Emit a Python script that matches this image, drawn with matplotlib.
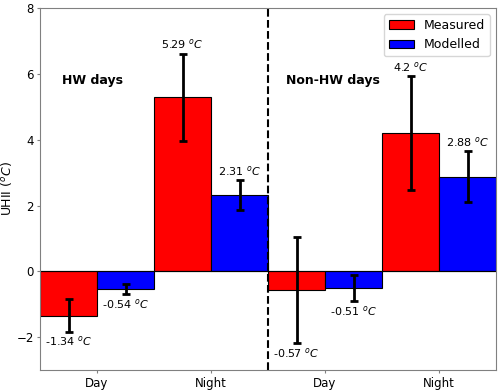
import matplotlib
matplotlib.use("Agg")
import matplotlib.pyplot as plt
import numpy as np

periods = ["Day", "Night", "Day", "Night"]
measured = [-1.34, 5.29, -0.57, 4.2]
modelled = [-0.54, 2.31, -0.51, 2.88]
measured_err = [0.49, 1.32, 1.61, 1.72]
modelled_err = [0.16, 0.46, 0.40, 0.76]
groups = ["HW days", "Non-HW days"]

plt.rcParams["axes.edgecolor"] = "gray"
plt.rcParams["xtick.color"] = "gray"
plt.rcParams["ytick.color"] = "gray"
plt.rcParams["xtick.labelcolor"] = "black"
plt.rcParams["ytick.labelcolor"] = "black"

fig, ax = plt.subplots(figsize=(5, 3.91), dpi=100)
x = np.arange(len(periods))
w = 0.5

ax.bar(x - w / 2, measured, w, color="red", edgecolor="black", linewidth=0.8, label="Measured")
ax.bar(x + w / 2, modelled, w, color="blue", edgecolor="black", linewidth=0.8, label="Modelled")
ax.errorbar(x - w / 2, measured, yerr=measured_err, fmt="none", ecolor="black",
            elinewidth=2, capsize=3, capthick=2)
ax.errorbar(x + w / 2, modelled, yerr=modelled_err, fmt="none", ecolor="black",
            elinewidth=2, capsize=3, capthick=2)

for xs, vals, errs in [(x - w / 2, measured, measured_err), (x + w / 2, modelled, modelled_err)]:
    for xi, v, e in zip(xs, vals, errs):
        if v >= 0:
            ax.text(xi, v + e + 0.08, f"{v} $^oC$", ha="center", va="bottom", fontsize=8)
        else:
            ax.text(xi, v - e - 0.08, f"{v} $^oC$", ha="center", va="top", fontsize=8)

ax.axvline(1.5, color="black", linestyle="--", linewidth=1.5)
ax.axhline(0, color="black", linewidth=0.8)

ax.text(-0.31, 5.8, groups[0], fontweight="bold", fontsize=9, va="center")
ax.text(1.66, 5.8, groups[1], fontweight="bold", fontsize=9, va="center")

ax.set_xticks(x)
ax.set_xticklabels(periods)
ax.tick_params(axis="both", labelsize=8.5, length=2.5, pad=2)
ax.set_xlim(-0.5, 3.5)
ax.set_ylim(-3, 8)
ax.set_ylabel("UHII ($^oC$)", fontsize=9)
ax.yaxis.set_label_coords(-0.057, 0.5)
ax.legend(loc="upper right", fontsize=9)

fig.subplots_adjust(left=0.08, right=0.992, top=0.98, bottom=0.053)
fig.savefig("out.png")
